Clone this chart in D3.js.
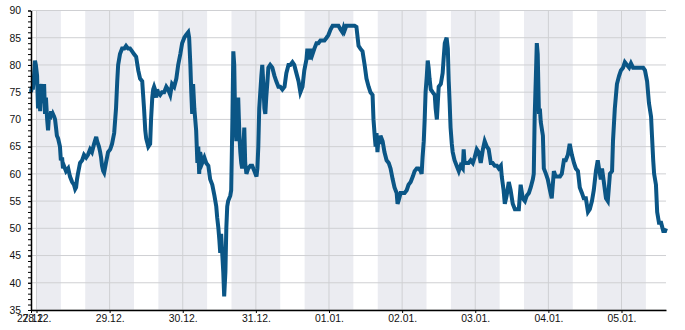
<!DOCTYPE html>
<html>
<head>
<meta charset="utf-8">
<script src="https://cdn.jsdelivr.net/npm/d3@7"></script>
<style>
  body { margin: 0; background: #fff; }
  svg { display: block; font-family: 'DejaVu Sans', sans-serif; }
  .axis text { font-size: 10.4px; fill: #111; }
  .axis path, .axis line { stroke: #000; }
</style>
</head>
<body>
<div id="wrapper"></div>
<script>
// hours after 28.12. 00:00 and the reading at that moment
const hours = [
  -1.8, -1.5, -1.2, -0.8, -0.5, -0.2, 0.2, 0.5, 0.8, 1.2, 1.5, 1.8, 2.1, 2.5, 2.8, 3.1, 3.5, 3.8, 4.1, 4.4,
  4.8, 5.1, 5.4, 5.8, 6.1, 6.4, 6.7, 7.1, 7.7, 8.0, 8.4, 8.7, 9.0, 9.7, 10.4, 11.0, 11.7, 12.3, 12.7, 13.0,
  13.3, 13.6, 14.3, 15.0, 15.6, 16.3, 16.9, 17.6, 18.2, 18.9, 19.6, 19.9, 20.5, 20.9, 21.2, 21.5, 21.9, 22.2, 22.8, 23.5,
  24.2, 24.8, 25.5, 26.1, 26.5, 26.8, 27.4, 28.1, 28.8, 29.4, 30.1, 30.7, 31.4, 32.0, 32.7, 33.4, 34.0, 34.7, 35.3, 35.7,
  36.0, 36.7, 37.3, 37.6, 38.0, 38.3, 38.6, 38.9, 39.3, 39.6, 39.9, 40.6, 41.2, 41.9, 42.6, 43.2, 43.9, 44.5, 45.2, 45.9,
  46.5, 47.2, 47.8, 48.5, 49.1, 49.8, 50.1, 50.5, 50.8, 51.1, 51.4, 51.8, 52.1, 52.4, 52.8, 53.1, 53.4, 53.7, 54.4, 55.1,
  55.7, 56.4, 57.0, 57.7, 58.4, 59.0, 59.3, 59.7, 60.0, 60.3, 60.6, 61.0, 61.3, 61.6, 62.0, 62.3, 62.6, 62.9, 63.6, 63.9,
  64.3, 64.6, 64.9, 65.2, 65.6, 65.9, 66.2, 66.6, 66.9, 67.2, 67.5, 67.9, 68.2, 68.5, 68.9, 69.5, 70.2, 70.8, 71.5, 72.2,
  72.5, 72.8, 73.1, 73.8, 74.1, 74.5, 74.8, 75.1, 75.4, 75.8, 76.1, 76.7, 77.4, 78.1, 78.7, 79.4, 80.0, 80.7, 81.4, 82.0,
  82.7, 83.3, 84.0, 84.6, 85.3, 86.0, 86.6, 87.3, 87.9, 88.6, 88.9, 89.2, 89.6, 89.9, 90.2, 90.6, 91.2, 91.9, 92.5, 93.2,
  93.9, 94.5, 95.2, 95.8, 96.5, 97.2, 97.8, 98.5, 99.1, 99.8, 100.4, 100.8, 101.1, 101.7, 102.4, 103.1, 103.7, 104.4, 105.0, 105.4,
  105.7, 106.3, 107.0, 107.7, 108.3, 109.0, 109.6, 110.3, 110.6, 111.0, 111.3, 111.6, 111.9, 112.3, 112.6, 112.9, 113.6, 114.2, 114.9, 115.6,
  116.2, 116.9, 117.5, 118.2, 118.5, 118.8, 119.5, 120.2, 120.8, 121.5, 122.1, 122.8, 123.5, 124.1, 124.8, 125.4, 126.1, 126.4, 126.7, 127.1,
  127.4, 127.7, 128.1, 128.4, 128.7, 129.0, 129.4, 130.0, 130.7, 131.0, 131.4, 131.7, 132.0, 132.7, 133.3, 133.6, 134.0, 134.6, 135.0, 135.3,
  135.6, 135.9, 136.3, 136.6, 137.2, 137.9, 138.6, 139.2, 139.9, 140.2, 140.5, 141.2, 141.8, 142.5, 143.2, 143.8, 144.5, 145.1, 145.8, 146.5,
  147.1, 147.8, 148.4, 149.1, 149.7, 150.4, 151.1, 151.7, 152.4, 152.7, 153.3, 153.7, 154.3, 155.0, 155.6, 156.3, 157.0, 157.6, 158.3, 158.9,
  159.6, 160.3, 160.9, 161.6, 162.2, 162.9, 163.2, 163.5, 163.9, 164.2, 164.5, 164.9, 165.2, 165.5, 166.2, 166.5, 167.2, 167.8, 168.5, 169.1,
  169.8, 170.4, 171.1, 171.8, 172.4, 173.1, 173.7, 174.4, 175.0, 175.7, 176.4, 177.0, 177.7, 178.3, 179.0, 179.6, 180.3, 181.0, 181.6, 182.3,
  182.9, 183.6, 184.2, 184.6, 185.2, 185.6, 186.2, 186.9, 187.5, 188.2, 188.9, 189.2, 189.8, 190.5, 191.2, 191.8, 192.5, 193.1, 193.8, 194.5,
  195.1, 195.8, 196.4, 197.1, 197.7, 198.4, 199.1, 199.7, 200.4, 201.0, 201.7, 202.0, 202.4, 202.7, 203.3, 203.7, 204.3, 205.0, 205.7, 206.3,
  206.6
]
const values = [
  75, 76, 75.5, 78, 80.8, 80, 78, 72, 76.5, 71.5, 75, 76.5, 73, 76.5, 71, 74, 70, 68, 70.5, 70,
  71.5, 70.5, 71, 70.5, 70, 68.5, 67, 66.5, 65, 62.5, 63, 61, 61.5, 60.5, 61, 59.5, 58.5, 58, 57.2, 57.5,
  59, 60, 62, 62.5, 63.5, 63, 63.5, 64.5, 64, 65.5, 66.8, 66, 65, 64, 63, 61.5, 60.5, 60.2, 62, 64,
  64.5, 65.5, 67.5, 72, 77, 80, 82, 83, 83, 83.5, 83, 83, 82.5, 82, 81.5, 79, 77.5, 77, 72, 68,
  66.5, 65, 65.5, 70, 74, 75.5, 76, 75.5, 74, 75.5, 75, 74.5, 75, 75, 76, 75.5, 74.5, 76.5, 76, 77.5,
  80, 82, 84, 85, 85.5, 86, 85, 80, 75, 71, 76.5, 72, 70, 68, 62, 65, 60, 64, 62, 63,
  62, 61.5, 59, 58, 56, 54, 52, 50, 48, 45.5, 49, 45, 42, 37.5, 42, 50, 54, 55, 56, 57,
  70, 82.5, 80, 70, 66, 68, 74, 67, 64, 62, 61, 65, 68.5, 62, 60, 61, 61.5, 61.5, 60.5, 59.5,
  61, 65, 72, 78, 80, 76, 72, 71, 74, 77, 79.5, 80, 79.5, 78, 77, 76, 76, 75.5, 76, 78.5,
  80, 80, 80.5, 80, 78.5, 77, 75, 76, 79, 81, 83, 81, 82.5, 81, 83, 82, 83, 84, 84, 84.5,
  84.5, 84.5, 85, 85.5, 86.5, 87.2, 87.2, 87.2, 87.2, 86.5, 86, 86.8, 86.3, 87.2, 87.2, 87.2, 87.2, 87.2, 87, 85,
  83.5, 83, 82.5, 80, 77.5, 76, 75, 74.5, 70, 67, 65, 67.5, 64, 67, 65.5, 67, 66, 64, 62.5, 62,
  61, 59, 57.5, 56.5, 54.5, 55, 56.5, 56.5, 56.5, 57, 58, 58.5, 59.5, 60.5, 61, 61, 60.5, 60, 63, 66,
  70, 75, 78, 80.8, 79.5, 77.5, 75.5, 75, 74.5, 72, 70, 73, 76, 76.5, 78.5, 81, 84, 85, 83, 77,
  73, 68.5, 65.5, 64, 62.5, 61.5, 60.5, 61.5, 61, 64.5, 62, 62, 62, 62.5, 62, 63, 64.5, 64, 62, 64.5,
  66, 65, 64.5, 62, 62, 61.5, 61.5, 61, 61.5, 59.5, 57, 54.5, 56, 58.5, 57, 54.5, 53.5, 53.5, 53.5, 58,
  55.5, 55, 56, 56.5, 57.5, 59, 60, 70.5, 78, 84, 82, 71, 72, 69.5, 67, 61, 60, 59, 57, 55.5,
  60.5, 59.5, 59.5, 59.5, 60, 62.5, 62.5, 63.5, 65.5, 63.5, 62, 61, 60.5, 57.5, 56.5, 55.5, 55.5, 53, 53.5, 55,
  57, 60.5, 62.5, 61, 59, 61, 58.5, 55.5, 55, 60, 60.5, 66, 72, 76.5, 78, 79, 79.5, 80.5, 80, 79.5,
  80.3, 79.5, 79.5, 79.5, 79.5, 79.5, 79.5, 79, 77, 73, 70.5, 67, 62.5, 60, 58, 53, 51, 51, 49.5, 49.5,
  50
]
// night shading, hours after 28.12. 00:00 (16:00 - 08:00)
const nightStart = [0, 16, 40, 64, 88, 112, 136, 160, 184]
const nightEnd = [8, 32, 56, 80, 104, 128, 152, 176, 200]
const yTicks = [35, 40, 45, 50, 55, 60, 65, 70, 75, 80, 85, 90]

const day0 = new Date(2020, 11, 28)
const toDate = (h) => new Date(day0.getTime() + h * 3600 * 1000)
const data = hours.map((h, i) => ({ date: toDate(h), value: values[i] }))

const dimensions = {
  width: 685,
  height: 330,
  margin: { top: 10.5, right: 19, bottom: 20, left: 31 },
}
dimensions.boundedWidth =
  dimensions.width - dimensions.margin.left - dimensions.margin.right
dimensions.boundedHeight =
  dimensions.height - dimensions.margin.top - dimensions.margin.bottom

const svg = d3
  .select('#wrapper')
  .append('svg')
  .attr('width', dimensions.width)
  .attr('height', dimensions.height)

const bounds = svg
  .append('g')
  .attr('transform', `translate(${dimensions.margin.left},${dimensions.margin.top})`)

// scales
const xScale = d3
  .scaleTime()
  .domain(d3.extent(data, (d) => d.date))
  .range([0, dimensions.boundedWidth])

const yScale = d3
  .scaleLinear()
  .domain([35, 90])
  .range([dimensions.boundedHeight, 0])

const dayTicks = d3.timeDay.range(day0, xScale.domain()[1])

// night bands
bounds
  .append('g')
  .selectAll('rect')
  .data(nightStart)
  .join('rect')
  .attr('x', (d) => xScale(toDate(d)))
  .attr('width', (d, i) => xScale(toDate(nightEnd[i])) - xScale(toDate(d)))
  .attr('y', 0)
  .attr('height', dimensions.boundedHeight)
  .attr('fill', '#ebecf1')

// grid
bounds
  .append('g')
  .selectAll('line')
  .data(yTicks)
  .join('line')
  .attr('x1', 0)
  .attr('x2', dimensions.boundedWidth)
  .attr('y1', (d) => yScale(d))
  .attr('y2', (d) => yScale(d))
  .attr('stroke', '#cfd0d3')
  .attr('stroke-width', 1)

bounds
  .append('g')
  .selectAll('line')
  .data(dayTicks)
  .join('line')
  .attr('x1', (d) => xScale(d))
  .attr('x2', (d) => xScale(d))
  .attr('y1', 0)
  .attr('y2', dimensions.boundedHeight)
  .attr('stroke', '#cfd0d3')
  .attr('stroke-width', 1)

// line
const lineGenerator = d3
  .line()
  .x((d) => xScale(d.date))
  .y((d) => yScale(d.value))

bounds
  .append('path')
  .datum(data)
  .attr('d', lineGenerator)
  .attr('fill', 'none')
  .attr('stroke', '#0b5686')
  .attr('stroke-width', 4)
  .attr('stroke-linejoin', 'miter')

// axes
const yMinor = bounds
  .append('g')
  .attr('class', 'axis')
  .call(
    d3.axisLeft(yScale).tickValues(d3.range(35, 91, 1)).tickSize(3).tickFormat('')
  )
yMinor.select('.domain').remove()

bounds
  .append('g')
  .attr('class', 'axis')
  .call(d3.axisLeft(yScale).tickValues(yTicks).tickSize(3).tickPadding(7).tickSizeOuter(0))

const dayFormat = d3.timeFormat('%d.%m.')
bounds
  .append('g')
  .attr('class', 'axis')
  .attr('transform', `translate(0,${dimensions.boundedHeight})`)
  .call(
    d3
      .axisBottom(xScale)
      .tickValues([xScale.domain()[0], ...dayTicks])
      .tickFormat(dayFormat)
      .tickSize(3)
      .tickPadding(2)
      .tickSizeOuter(0)
  )

svg.selectAll('.axis .domain').attr('stroke-width', 1.5)
</script>
</body>
</html>
